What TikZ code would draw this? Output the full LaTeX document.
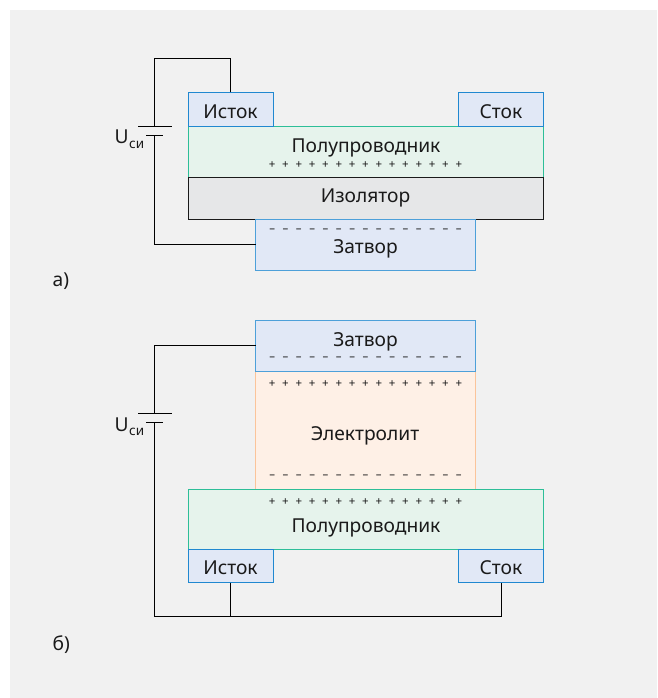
\documentclass[tikz,border=0pt]{standalone}
\usepackage{fontspec}
\setmainfont{Noto Sans}
\definecolor{panel}{HTML}{F1F1F1}
\definecolor{bluefill}{HTML}{E1E8F6}
\definecolor{blueedge}{HTML}{2088D0}
\definecolor{greenfill}{HTML}{E6F3EC}
\definecolor{greenedge}{HTML}{2DBE98}
\definecolor{greyfill}{HTML}{E6E7E8}
\definecolor{orangefill}{HTML}{FEF0E6}
\definecolor{orangeedge}{HTML}{FBC49A}
\definecolor{inkc}{HTML}{1A1A1A}
\newcommand{\chargerow}[1]{\foreach \i in {1,...,15}{\hbox to 13.33pt{\hss#1\hss}}}
\newcommand{\usub}{U\kern0.5pt\raisebox{-4.7pt}{\fontsize{13.5}{13.5}\selectfont си}}
\tikzset{
  x=1pt,y=-1pt,
  layer/.style={minimum width=#1,inner sep=0pt,outer sep=0pt,anchor=north west,line width=1pt},
  contact/.style={layer=85pt,minimum height=33.5pt,draw=blueedge,fill=bluefill},
  gatebox/.style={layer=220pt,minimum height=51pt,draw=blueedge!80!white,fill=bluefill},
  semibox/.style={layer=355pt,draw=greenedge,fill=greenfill},
  insbox/.style={layer=355pt,minimum height=42pt,draw=inkc,fill=greyfill},
  elbox/.style={layer=220pt,minimum height=118pt,draw=orangeedge,fill=orangefill},
  wire/.style={draw=black,line width=1pt,line join=miter},
  plate/.style={draw=black,line width=1pt},
  lab/.style={font=\fontsize{19.2}{20}\selectfont,text=inkc,inner sep=0pt,anchor=base},
  charges/.style={font=\fontsize{11.5}{14}\selectfont,text=inkc,inner sep=0pt},
}
\begin{document}
\begin{tikzpicture}
\useasboundingbox (0,0) rectangle (657,698);
\fill[panel] (10,10) rectangle (657,698);
% ---------- a)
\coordinate (aTop) at (154.5,58.5);
\coordinate (aLong1) at (138,126.5); \coordinate (aLong2) at (171.5,126.5);
\coordinate (aShort1) at (146,135.5); \coordinate (aShort2) at (163,135.5);
\node[semibox,minimum height=51pt] (aSemi) at (188,126) {};
\node[insbox] (aIns) at (188,177) {};
\node[gatebox] (aGate) at (255.5,219) {};
\node[contact] (aSrc) at (188.3,92.5) {};
\node[contact] (aDrn) at (458.5,92.5) {};
\node[lab] at (230.5,118) {Исток};
\node[lab] at (501,118) {Сток};
\node[lab] at (366,152.5) {Полупроводник};
\node[lab] at (365.5,202) {Изолятор};
\node[lab] at (365.5,253) {Затвор};
\node[charges] (aPlus) at (365.5,165) {\chargerow{+}};
\node[charges] (aMinus) at (365.5,231) {\chargerow{–}};
\draw[wire] (aSrc.north) -- (aSrc.north |- aTop) -- (aTop) -- (aTop |- aLong1);
\draw[plate] (aLong1) -- (aLong2);
\draw[plate] (aShort1) -- (aShort2);
\draw[wire] (aTop |- aShort1) -- (aTop |- aGate.west) -- (aGate.west);
\node[lab,anchor=base west] at (114.5,143.5) {\usub};
\node[lab,anchor=base west] at (52.5,286.5) {а)};
% ---------- b)
\coordinate (bLong1) at (138,413.5); \coordinate (bLong2) at (171.5,413.5);
\coordinate (bShort1) at (146,422.5); \coordinate (bShort2) at (163,422.5);
\coordinate (bBot) at (154.5,616.5);
\node[elbox] (bEl) at (255.5,371.5) {};
\node[gatebox] (bGate) at (255.5,320) {};
\node[semibox,minimum height=59.5pt] (bSemi) at (188,489.5) {};
\node[contact] (bSrc) at (188.3,549) {};
\node[contact] (bDrn) at (458.5,549) {};
\node[lab] at (365.5,346) {Затвор};
\node[lab] at (365,440) {Электролит};
\node[lab] at (366,532.5) {Полупроводник};
\node[lab] at (230.5,574.5) {Исток};
\node[lab] at (501,574.5) {Сток};
\node[charges] at (365.5,359) {\chargerow{–}};
\node[charges] at (365.5,384) {\chargerow{+}};
\node[charges] at (365.5,477) {\chargerow{–}};
\node[charges] at (365.5,502.5) {\chargerow{+}};
\draw[wire] (bGate.west) -- (bGate.west -| bBot) -- (bBot |- bLong1);
\draw[plate] (bLong1) -- (bLong2);
\draw[plate] (bShort1) -- (bShort2);
\draw[wire] (bShort1 -| bBot) -- (bBot) -- (bDrn.south |- bBot) -- (bDrn.south);
\draw[wire] (bSrc.south) -- (bSrc.south |- bBot);
\node[lab,anchor=base west] at (114.5,431) {\usub};
\node[lab,anchor=base west] at (52.5,650) {б)};
\end{tikzpicture}
\end{document}
